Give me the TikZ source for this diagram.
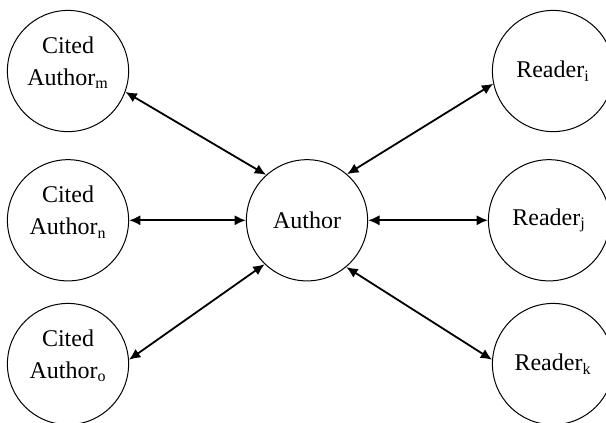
\documentclass[tikz,border=0pt]{standalone}
\usepackage{fontspec}
\setmainfont{Liberation Serif}
\usepackage{tikz}
\usetikzlibrary{arrows.meta}

\begin{document}
\begin{tikzpicture}[
  font=\fontsize{12}{16}\selectfont,
  person/.style={draw, circle, minimum size=2.13cm, inner sep=0pt, align=center, line width=0.5pt},
  cited/.style={person, text depth=10pt},
  link/.style={line width=0.9pt, {Latex[length=2mm, width=1.8mm]}-{Latex[length=2mm, width=1.8mm]}},
]
\useasboundingbox (0,0) rectangle (10.649,7.416);

% Cited authors (left column)
\node[cited] (cm) at (1.195,6.168) {Cited\\ Author\textsubscript{m}};
\node[cited] (cn) at (1.195,3.545) {Cited\\ Author\textsubscript{n}};
\node[cited] (co) at (1.195,1.019) {Cited\\ Author\textsubscript{o}};

% Author in the middle
\node[person] (au) at (5.395,3.545) {Author};

% Readers (right column)
\node[person] (ri) at (9.718,6.168) {Reader\textsubscript{i}};
\node[person] (rj) at (9.648,3.545) {Reader\textsubscript{j}};
\node[person] (rk) at (9.718,1.019) {Reader\textsubscript{k}};

% Two-way links
\draw[link] (cm.-20) -- (au.132);
\draw[link] (cn.east) -- (au.west);
\draw[link] (co.4) -- (au.226);
\draw[link] (au.49) -- (ri.192);
\draw[link] (au.east) -- (rj.west);
\draw[link] (au.-50) -- (rk.176);
\end{tikzpicture}
\end{document}
